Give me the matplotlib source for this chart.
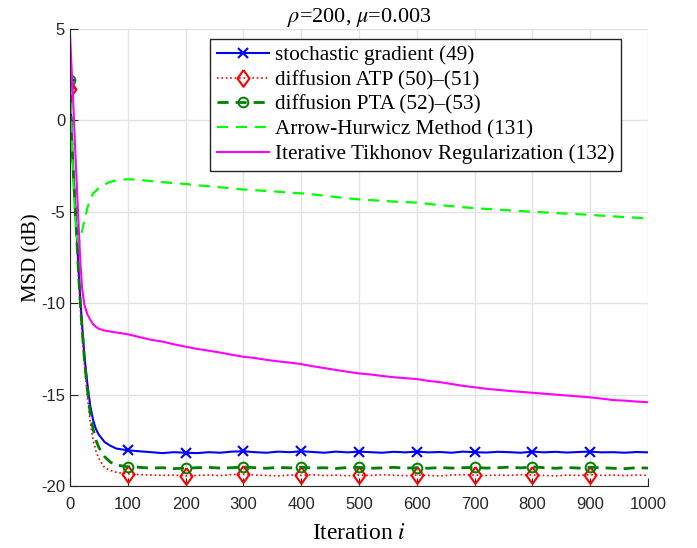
import numpy as np
import matplotlib.pyplot as plt

plt.rcParams['mathtext.fontset'] = 'stix'
plt.rcParams['axes.unicode_minus'] = False

# iteration grid (denser at start where the curves drop fast)
iters = [0, 3, 6, 9, 12, 15, 18, 21, 25, 30, 35, 40, 45, 50, 60, 70, 80, 90, 100] + list(range(120, 1001, 20))

# MSD (dB)
msd_sg = [2.0, -0.8, -2.9, -4.6, -6.4, -8.3, -9.9, -11.2, -12.9, -14.4, -15.6, -16.4, -16.9, -17.2, -17.6, -17.8, -17.95, -18.0, -18.05,
          -18.1, -18.15, -18.2, -18.15, -18.18, -18.2, -18.15, -18.18, -18.12, -18.1,
          -18.15, -18.18, -18.12, -18.15, -18.1, -18.14, -18.18, -18.12, -18.16, -18.12,
          -18.15, -18.18, -18.13, -18.16, -18.12, -18.16, -18.14, -18.18, -18.12, -18.15,
          -18.17, -18.13, -18.15, -18.18, -18.12, -18.16, -18.13, -18.17, -18.14, -18.12,
          -18.16, -18.15, -18.18, -18.14, -18.16]
msd_atp = [1.7, -1.2, -3.2, -5.0, -6.8, -8.7, -10.3, -11.7, -13.4, -15.1, -16.5, -17.5, -18.1, -18.5, -19.0, -19.15, -19.25, -19.3, -19.33,
           -19.38, -19.4, -19.42, -19.4, -19.45, -19.42, -19.4, -19.43, -19.38, -19.36,
           -19.4, -19.42, -19.45, -19.4, -19.42, -19.38, -19.43, -19.4, -19.44, -19.4,
           -19.42, -19.38, -19.41, -19.44, -19.4, -19.42, -19.45, -19.4, -19.38, -19.4,
           -19.43, -19.4, -19.42, -19.38, -19.4, -19.42, -19.45, -19.4, -19.42, -19.38,
           -19.42, -19.4, -19.43, -19.4, -19.42]
msd_pta = [2.2, -0.9, -3.0, -4.8, -6.6, -8.5, -10.1, -11.4, -13.1, -14.7, -16.0, -16.9, -17.5, -17.9, -18.4, -18.7, -18.85, -18.9, -18.95,
           -18.98, -19.02, -19.0, -19.05, -19.02, -19.0, -18.98, -19.02, -19.0, -18.96,
           -19.0, -19.03, -18.98, -19.01, -18.97, -19.02, -19.0, -19.04, -18.99, -18.98,
           -19.03, -19.01, -18.98, -19.02, -19.0, -19.03, -18.99, -19.02, -19.0, -18.98,
           -19.02, -19.0, -18.97, -19.01, -18.95, -19.0, -19.03, -18.99, -19.02, -18.98,
           -19.0, -19.03, -19.05, -19.0, -19.02]
msd_ah = [2.0, -1.0, -3.5, -5.3, -6.4, -6.7, -6.5, -6.0, -5.5, -4.8, -4.3, -4.0, -3.85, -3.7, -3.5, -3.36, -3.28, -3.24, -3.22,
          -3.25, -3.32, -3.38, -3.43, -3.48, -3.55, -3.6, -3.66, -3.72, -3.78,
          -3.82, -3.86, -3.9, -3.95, -3.99, -4.05, -4.12, -4.19, -4.26, -4.32,
          -4.36, -4.4, -4.44, -4.47, -4.5, -4.57, -4.63, -4.69, -4.75, -4.8,
          -4.84, -4.88, -4.92, -4.96, -5.0, -5.03, -5.07, -5.1, -5.13, -5.17,
          -5.21, -5.25, -5.29, -5.32, -5.37]
msd_itr = [4.7, 2.7, 0.7, -1.6, -3.7, -5.8, -7.8, -9.2, -10.1, -10.6, -10.9, -11.15, -11.3, -11.4, -11.5, -11.55, -11.6, -11.65, -11.7,
           -11.85, -12.0, -12.1, -12.25, -12.38, -12.5, -12.6, -12.7, -12.82, -12.93,
           -13.0, -13.1, -13.18, -13.25, -13.33, -13.45, -13.55, -13.65, -13.75, -13.84,
           -13.9, -13.98, -14.05, -14.1, -14.15, -14.25, -14.32, -14.42, -14.52, -14.6,
           -14.68, -14.74, -14.8, -14.85, -14.9, -14.95, -15.0, -15.05, -15.1, -15.15,
           -15.22, -15.3, -15.33, -15.38, -15.42]

labels = ['stochastic gradient (49)', 'diffusion ATP (50)\u2013(51)', 'diffusion PTA (52)\u2013(53)',
          'Arrow-Hurwicz Method (131)', 'Iterative Tikhonov Regularization (132)']

marks = [iters.index(v) for v in range(0, 1000, 100)]
diamond = [(0, 1), (0.72, 0), (0, -1), (-0.72, 0), (0, 1)]

fig = plt.figure(figsize=(6.97, 5.48), dpi=100)
ax = fig.add_axes([70/697, 1-486/548, 578/697, 457/548])

ax.plot(iters, msd_sg, color='b', lw=1.5, marker='x', ms=7, mew=1.5, markevery=marks, label=labels[0])
ax.plot(iters, msd_atp, color='r', lw=1.2, ls=':', marker=diamond, ms=12, mew=1.5, mfc='none', markevery=marks, label=labels[1])
ax.plot(iters, msd_pta, color=(0, 0.5, 0), lw=2, ls=(0, (4, 2.5)), marker='o', ms=7, mew=1.4, mfc='none', markevery=marks, label=labels[2])
ax.plot(iters, msd_ah, color=(0, 1, 0), lw=1.6, ls=(0, (5, 3.5)), label=labels[3])
ax.plot(iters, msd_itr, color=(1, 0, 1), lw=1.5, label=labels[4])

ax.set_xlim(0, 1000)
ax.set_ylim(-20, 5)
ax.set_xticks(range(0, 1001, 100))
ax.set_yticks(range(-20, 6, 5))
ax.grid(True, color='#e3e3e3', lw=1)
ax.set_axisbelow(True)
for s in ['top', 'right']:
    ax.spines[s].set_visible(False)
for s in ['left', 'bottom']:
    ax.spines[s].set_color('#262626')
ax.tick_params(direction='in', length=6, color='#262626', labelcolor='#262626', labelsize=12)
ax.tick_params(axis='x', pad=8)
for lab in ax.get_xticklabels() + ax.get_yticklabels():
    lab.set_fontfamily('Liberation Sans')

ax.set_xlabel(r'Iteration $i$', fontsize=17, fontfamily='Liberation Serif', labelpad=8)
ax.set_ylabel('MSD (dB)', fontsize=15, fontfamily='Liberation Serif', labelpad=0)
ax.set_title(r'$\rho$=200, $\mu$=0.003', fontsize=16, fontfamily='Liberation Serif', pad=5)

leg = ax.legend(loc='upper right', bbox_to_anchor=(0.953, 0.978), borderaxespad=0,
                prop={'family': 'Liberation Serif', 'size': 15.3}, fancybox=False,
                framealpha=1, edgecolor='#262626', handlelength=2.45, handletextpad=0.3,
                labelspacing=0.23, borderpad=0.3)
leg.get_frame().set_linewidth(1)

plt.savefig('out.png', dpi=100)
plt.close()
